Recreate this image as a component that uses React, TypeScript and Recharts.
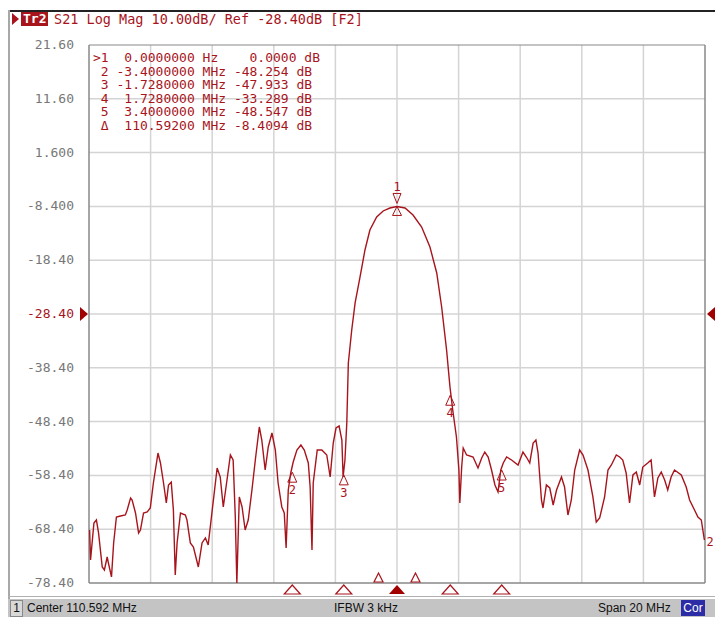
import { LineChart, Line, XAxis, YAxis, ReferenceLine, ReferenceDot } from 'recharts';

// offset from center frequency, MHz
const FREQ = [
  -9.98, -9.95, -9.84, -9.76, -9.69, -9.57, -9.5, -9.41, -9.37, -9.27, -9.2, -9.11, -8.98, -8.82, -8.76, -8.65,
  -8.6, -8.49, -8.39, -8.33, -8.23, -8.11, -8.01, -7.91, -7.76, -7.68, -7.58, -7.49, -7.42, -7.33, -7.26, -7.2,
  -7.14, -7.03, -6.87, -6.82, -6.71, -6.61, -6.45, -6.33, -6.22, -6.13, -6.01, -5.84, -5.74, -5.64, -5.52, -5.41,
  -5.32, -5.25, -5.2, -5.12, -5.03, -4.93, -4.83, -4.71, -4.6, -4.47, -4.39, -4.28, -4.18, -4.06, -3.95, -3.86,
  -3.74, -3.66, -3.6, -3.53, -3.45, -3.37, -3.25, -3.12, -3.01, -2.88, -2.82, -2.76, -2.72, -2.59, -2.44, -2.28,
  -2.17, -2.07, -1.98, -1.88, -1.79, -1.75, -1.69, -1.63, -1.58, -1.47, -1.36, -1.2, -1.04, -0.88, -0.66, -0.45,
  -0.23, 0, 0.26, 0.52, 0.8, 1.07, 1.29, 1.45, 1.61, 1.72, 1.81, 1.93, 2.01, 2.04, 2.1, 2.15,
  2.26, 2.47, 2.63, 2.75, 2.85, 2.96, 3.07, 3.18, 3.28, 3.37, 3.45, 3.56, 3.72, 3.93, 4.09, 4.2,
  4.31, 4.42, 4.51, 4.58, 4.69, 4.74, 4.85, 4.96, 5.07, 5.18, 5.34, 5.44, 5.55, 5.66, 5.77, 5.93,
  6.04, 6.2, 6.36, 6.47, 6.58, 6.74, 6.85, 6.96, 7.12, 7.23, 7.33, 7.44, 7.55, 7.66, 7.77, 7.88,
  7.98, 8.14, 8.25, 8.36, 8.47, 8.58, 8.69, 8.79, 8.9, 9.01, 9.23, 9.39, 9.5, 9.66, 9.77, 9.88,
  9.93, 9.98,
];

// S21 log mag, dB
const MAG = [
  -68.55, -74.12, -67.25, -66.69, -69.1, -75.42, -75.98, -73.57, -74.68, -77.28, -70.96, -66.13, -65.94, -65.76, -64.83, -62.6,
  -62.97, -65.39, -69.1, -68.55, -65.39, -65.2, -64.46, -59.81, -54.24, -56.09, -59.81, -63.53, -60.18, -59.63, -64.83, -76.91,
  -70.96, -65.39, -65.76, -66.69, -70.96, -71.71, -75.42, -70.96, -70.03, -71.34, -65.39, -57.02, -58.7, -64.27, -59.25, -54.61,
  -55.54, -66.13, -78.4, -62.41, -64.27, -68.55, -66.69, -61.11, -55.54, -49.4, -51.82, -57.4, -53.12, -50.52, -53.68, -59.81,
  -64.27, -65.39, -71.89, -61.11, -57.95, -55.91, -53.68, -52.75, -53.68, -56.09, -60.55, -72.26, -59.81, -53.68, -53.68, -54.61,
  -58.7, -52.38, -49.59, -49.22, -51.82, -58.7, -55.54, -48.66, -37.51, -31.37, -26.35, -21.52, -16.5, -12.79, -10.37, -9.25,
  -8.7, -8.41, -8.7, -10.0, -12.23, -15.95, -20.78, -27.1, -35.09, -41.97, -46.24, -51.26, -57.4, -63.53, -56.84, -53.31,
  -54.61, -54.98, -57.02, -55.16, -54.05, -54.98, -57.4, -60.18, -61.48, -57.4, -56.09, -54.98, -55.54, -56.47, -54.05, -54.98,
  -56.09, -52.38, -51.82, -54.24, -62.97, -64.46, -60.18, -60.74, -63.9, -61.11, -58.7, -60.55, -65.76, -62.97, -57.4, -53.68,
  -54.61, -57.4, -62.41, -67.06, -66.32, -62.41, -57.4, -56.47, -54.61, -54.98, -55.54, -57.95, -63.53, -58.32, -57.77, -60.18,
  -56.84, -56.09, -55.54, -62.41, -58.88, -57.77, -59.25, -61.11, -58.7, -57.4, -58.32, -60.55, -62.97, -64.83, -66.13, -66.69,
  -68.55, -70.41,
];

const Y_TICKS = [21.6, 11.6, 1.6, -8.4, -18.4, -28.4, -38.4, -48.4, -58.4, -68.4, -78.4];
const Y_LABELS = ['21.60', '11.60', '1.600', '-8.400', '-18.40', '-28.40', '-38.40', '-48.40', '-58.40', '-68.40', '-78.40'];
const X_TICKS = [-10, -8, -6, -4, -2, 0, 2, 4, 6, 8, 10];
const REF_LEVEL = -28.4;

// markers 2..5 drawn on the trace
const MARKER_IDS = ['2', '3', '4', '5'];
const MARKER_FREQ = [-3.4, -1.728, 1.728, 3.4];
const MARKER_MAG = [-57.8, -58.3, -43.5, -57.4];
const SMALL_TICKS = [-0.6, 0.6];

const TABLE = [
  '>1  0.0000000 Hz    0.0000 dB',
  ' 2 -3.4000000 MHz -48.254 dB',
  ' 3 -1.7280000 MHz -47.933 dB',
  ' 4  1.7280000 MHz -33.289 dB',
  ' 5  3.4000000 MHz -48.547 dB',
  ' Δ  110.59200 MHz -8.4094 dB',
];

const RED = '#a8141c';
const MONO = '"DejaVu Sans Mono", "Liberation Mono", monospace';
const data = FREQ.map((f, i) => ({ f, mag: MAG[i] }));

const YTick = (props: any) => {
  const i = Y_TICKS.indexOf(props.payload.value);
  const isRef = props.payload.value === REF_LEVEL;
  return (
    <text x={74} y={props.y + 4} textAnchor="end" fontFamily={MONO} fontSize={13} fill={isRef ? RED : '#777'}>
      {Y_LABELS[i]}
    </text>
  );
};

export default function App() {
  return (
    <div style={{ position: 'fixed', left: 0, top: 0, width: 715, height: 617, background: '#fff', overflow: 'hidden' }}>
      {/* window frame */}
      <div style={{ position: 'absolute', left: 9, top: 10, width: 706, height: 2, background: '#222' }} />
      <div style={{ position: 'absolute', left: 8, top: 10, width: 2, height: 607, background: '#a8a8a8' }} />

      {/* header */}
      <div style={{ position: 'absolute', left: 12, top: 13, width: 0, height: 0, borderTop: '6px solid transparent', borderBottom: '6px solid transparent', borderLeft: '7px solid ' + RED }} />
      <div style={{ position: 'absolute', left: 21, top: 12, height: 14, padding: '0 2px', background: RED, color: '#fff', fontFamily: MONO, fontSize: 13, lineHeight: '14px', fontWeight: 'bold' }}>Tr2</div>
      <div style={{ position: 'absolute', left: 54, top: 10, fontFamily: MONO, fontSize: 13.5, color: RED, whiteSpace: 'pre', lineHeight: '18px' }}>
        S21 Log Mag 10.00dB/ Ref -28.40dB [F2]
      </div>

      <div style={{ position: 'absolute', left: 0, top: 0 }}>
        <LineChart width={715} height={617} data={data} margin={{ top: 45, right: 10, left: 0, bottom: 34 }}>
          <XAxis type="number" dataKey="f" domain={[-10, 10]} ticks={X_TICKS} hide allowDataOverflow />
          <YAxis
            type="number"
            domain={[-78.4, 21.6]}
            ticks={Y_TICKS}
            width={89}
            axisLine={false}
            tickLine={false}
            tick={YTick}
            interval={0}
            allowDataOverflow
          />
          {X_TICKS.slice(1, -1).map((t) => (
            <ReferenceLine key={'x' + t} x={t} stroke="#d4d4d4" strokeWidth={1.5} />
          ))}
          {Y_TICKS.slice(1, -1).map((t) => (
            <ReferenceLine key={'y' + t} y={t} stroke="#d4d4d4" strokeWidth={1.5} />
          ))}
          <ReferenceLine x={-10} stroke="#888" strokeWidth={1.5} />
          <ReferenceLine x={10} stroke="#888" strokeWidth={1.5} />
          <ReferenceLine y={21.6} stroke="#888" strokeWidth={1} />
          <ReferenceLine y={-78.4} stroke="#888" strokeWidth={1.5} />
          <Line type="linear" dataKey="mag" stroke={RED} strokeWidth={1.4} dot={false} isAnimationActive={false} />

          {/* reference level arrows */}
          <ReferenceDot
            x={-10}
            y={REF_LEVEL}
            ifOverflow="visible"
            shape={(p: any) => <path d={`M${p.cx - 9},${p.cy - 7} L${p.cx - 9},${p.cy + 7} L${p.cx - 1},${p.cy} Z`} fill="#a00000" />}
          />
          <ReferenceDot
            x={10}
            y={REF_LEVEL}
            ifOverflow="visible"
            shape={(p: any) => <path d={`M${p.cx + 10},${p.cy - 7} L${p.cx + 10},${p.cy + 7} L${p.cx + 2},${p.cy} Z`} fill="#a00000" />}
          />

          {/* marker 1 / delta reference at the peak */}
          <ReferenceDot
            x={FREQ[97]}
            y={MAG[97]}
            ifOverflow="visible"
            shape={(p: any) => (
              <g stroke={RED} fill="none" strokeWidth={1}>
                <path d={`M${p.cx - 4},${p.cy - 13} L${p.cx + 4},${p.cy - 13} L${p.cx},${p.cy - 3} Z`} />
                <path d={`M${p.cx},${p.cy} L${p.cx - 4.5},${p.cy + 9} L${p.cx + 4.5},${p.cy + 9} Z`} />
                <text x={p.cx} y={p.cy - 15} textAnchor="middle" fontFamily={MONO} fontSize={12} fill={RED} stroke="none">1</text>
              </g>
            )}
          />
          {MARKER_IDS.map((id, i) => (
            <ReferenceDot
              key={'m' + id}
              x={MARKER_FREQ[i]}
              y={MARKER_MAG[i]}
              ifOverflow="visible"
              shape={(p: any) => (
                <g stroke={RED} fill="none" strokeWidth={1}>
                  <path d={`M${p.cx},${p.cy} L${p.cx - 4.5},${p.cy + 10} L${p.cx + 4.5},${p.cy + 10} Z`} />
                  <text x={p.cx} y={p.cy + 22} textAnchor="middle" fontFamily={MONO} fontSize={12} fill={RED} stroke="none">{id}</text>
                </g>
              )}
            />
          ))}

          {/* stimulus markers under the grid */}
          {MARKER_FREQ.map((f) => (
            <ReferenceDot
              key={'b' + f}
              x={f}
              y={-78.4}
              ifOverflow="visible"
              shape={(p: any) => (
                <path d={`M${p.cx},${p.cy + 2} L${p.cx - 8},${p.cy + 11} L${p.cx + 8},${p.cy + 11} Z`} stroke={RED} fill="none" strokeWidth={1.2} />
              )}
            />
          ))}
          <ReferenceDot
            x={0}
            y={-78.4}
            ifOverflow="visible"
            shape={(p: any) => <path d={`M${p.cx},${p.cy + 2} L${p.cx - 8},${p.cy + 11} L${p.cx + 8},${p.cy + 11} Z`} fill="#a00000" />}
          />
          {SMALL_TICKS.map((f) => (
            <ReferenceDot
              key={'s' + f}
              x={f}
              y={-78.4}
              ifOverflow="visible"
              shape={(p: any) => (
                <path d={`M${p.cx},${p.cy - 10} L${p.cx - 4.5},${p.cy - 1} L${p.cx + 4.5},${p.cy - 1} Z`} stroke={RED} fill="none" strokeWidth={1.2} />
              )}
            />
          ))}

          {/* trace number at the end of the sweep */}
          <ReferenceDot
            x={FREQ[FREQ.length - 1]}
            y={MAG[MAG.length - 1]}
            ifOverflow="visible"
            shape={(p: any) => (
              <text x={p.cx + 2} y={p.cy + 6} fontFamily={MONO} fontSize={12} fill={RED}>2</text>
            )}
          />
        </LineChart>
      </div>

      {/* marker table */}
      <div style={{ position: 'absolute', left: 93, top: 51, fontFamily: MONO, fontSize: 13, lineHeight: '13.6px', color: RED, whiteSpace: 'pre' }}>
        {TABLE.map((row) => (
          <div key={row} style={{ height: 13.6 }}>{row}</div>
        ))}
      </div>

      {/* status bar */}
      <div style={{ position: 'absolute', left: 8, top: 596, width: 707, height: 1, background: '#b0b0b0' }} />
      <div style={{ position: 'absolute', left: 8, top: 599, width: 707, height: 18, background: '#c4c4c4', fontFamily: '"Liberation Sans", Arial, sans-serif', fontSize: 12, color: '#111' }}>
        <div style={{ position: 'absolute', left: 2, top: 1, width: 11, height: 15, border: '1px solid #888', background: '#d8d8d8', textAlign: 'center', lineHeight: '15px' }}>1</div>
        <div style={{ position: 'absolute', left: 19, top: 2, lineHeight: '15px' }}>Center 110.592 MHz</div>
        <div style={{ position: 'absolute', left: 326, top: 2, lineHeight: '15px' }}>IFBW 3 kHz</div>
        <div style={{ position: 'absolute', left: 590, top: 2, lineHeight: '15px' }}>Span 20 MHz</div>
        <div style={{ position: 'absolute', left: 673, top: 1, width: 24, height: 16, background: '#2c2ca6', color: '#fff', textAlign: 'center', lineHeight: '16px' }}>Cor</div>
      </div>
    </div>
  );
}
